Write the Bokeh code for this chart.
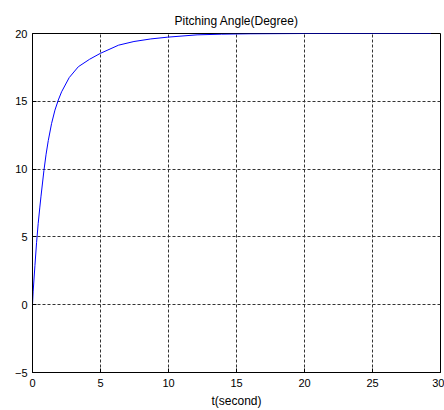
from bokeh.plotting import figure
from bokeh.models import Range1d, FixedTicker
from bokeh.embed import file_html
from bokeh.resources import INLINE

# Time (s) and pitching angle (degree)
t_sec = [0, 0.05, 0.18, 0.30, 0.42, 0.54, 0.62, 0.84, 1.0, 1.16, 1.40, 1.65, 1.90,
         2.14, 2.70, 3.37, 4.20, 4.98, 6.33, 7.46, 8.7, 9.93, 12.1, 13.9, 16.0,
         20.0, 25.0, 29.3]
angle_deg = [0, 1.0, 2.9, 4.6, 6.0, 7.2, 7.95, 9.9, 11.1, 12.1, 13.35, 14.35, 15.1,
             15.7, 16.75, 17.55, 18.1, 18.53, 19.14, 19.41, 19.6, 19.73, 19.9, 19.95, 19.98,
             20.0, 20.0, 20.0]

x_ticks = [0, 5, 10, 15, 20, 25, 30]
y_ticks = [-5, 0, 5, 10, 15, 20]

FONT = "Liberation Sans"

p = figure(width=444, height=410, output_backend="svg", toolbar_location=None,
           x_range=Range1d(0, 30), y_range=Range1d(-5, 20),
           title="Pitching Angle(Degree)",
           min_border_left=32, min_border_right=4, min_border_top=33, min_border_bottom=37)

p.background_fill_color = "white"
p.border_fill_color = "white"
p.outline_line_color = "black"
p.outline_line_width = 1

p.title.align = "center"
p.title.text_font = FONT
p.title.text_font_size = "12px"
p.title.text_font_style = "normal"
p.title.text_color = "black"
p.title.standoff = 11

p.line(t_sec, angle_deg, line_color="#0000FF", line_width=1)

for ax in (p.xaxis[0], p.yaxis[0]):
    ax.axis_line_color = "black"
    ax.major_tick_in = 4
    ax.major_tick_out = 0
    ax.minor_tick_line_color = None
    ax.major_label_text_font = FONT
    ax.major_label_text_font_size = "11px"
    ax.major_label_text_color = "black"

p.xaxis.ticker = FixedTicker(ticks=x_ticks)
p.yaxis.ticker = FixedTicker(ticks=y_ticks)
p.xaxis.major_label_standoff = 6
p.yaxis.major_label_standoff = 5

p.xaxis.axis_label = "t(second)"
p.xaxis.axis_label_text_font = FONT
p.xaxis.axis_label_text_font_size = "12px"
p.xaxis.axis_label_text_font_style = "normal"
p.xaxis.axis_label_text_color = "black"
p.xaxis.axis_label_standoff = 4

p.xgrid[0].ticker = FixedTicker(ticks=x_ticks)
p.ygrid[0].ticker = FixedTicker(ticks=y_ticks)
for g in (p.xgrid[0], p.ygrid[0]):
    g.grid_line_color = "#333333"
    g.grid_line_dash = "3 2"
    g.grid_line_width = 1

with open("out.html", "w") as f:
    f.write(file_html(p, INLINE))
